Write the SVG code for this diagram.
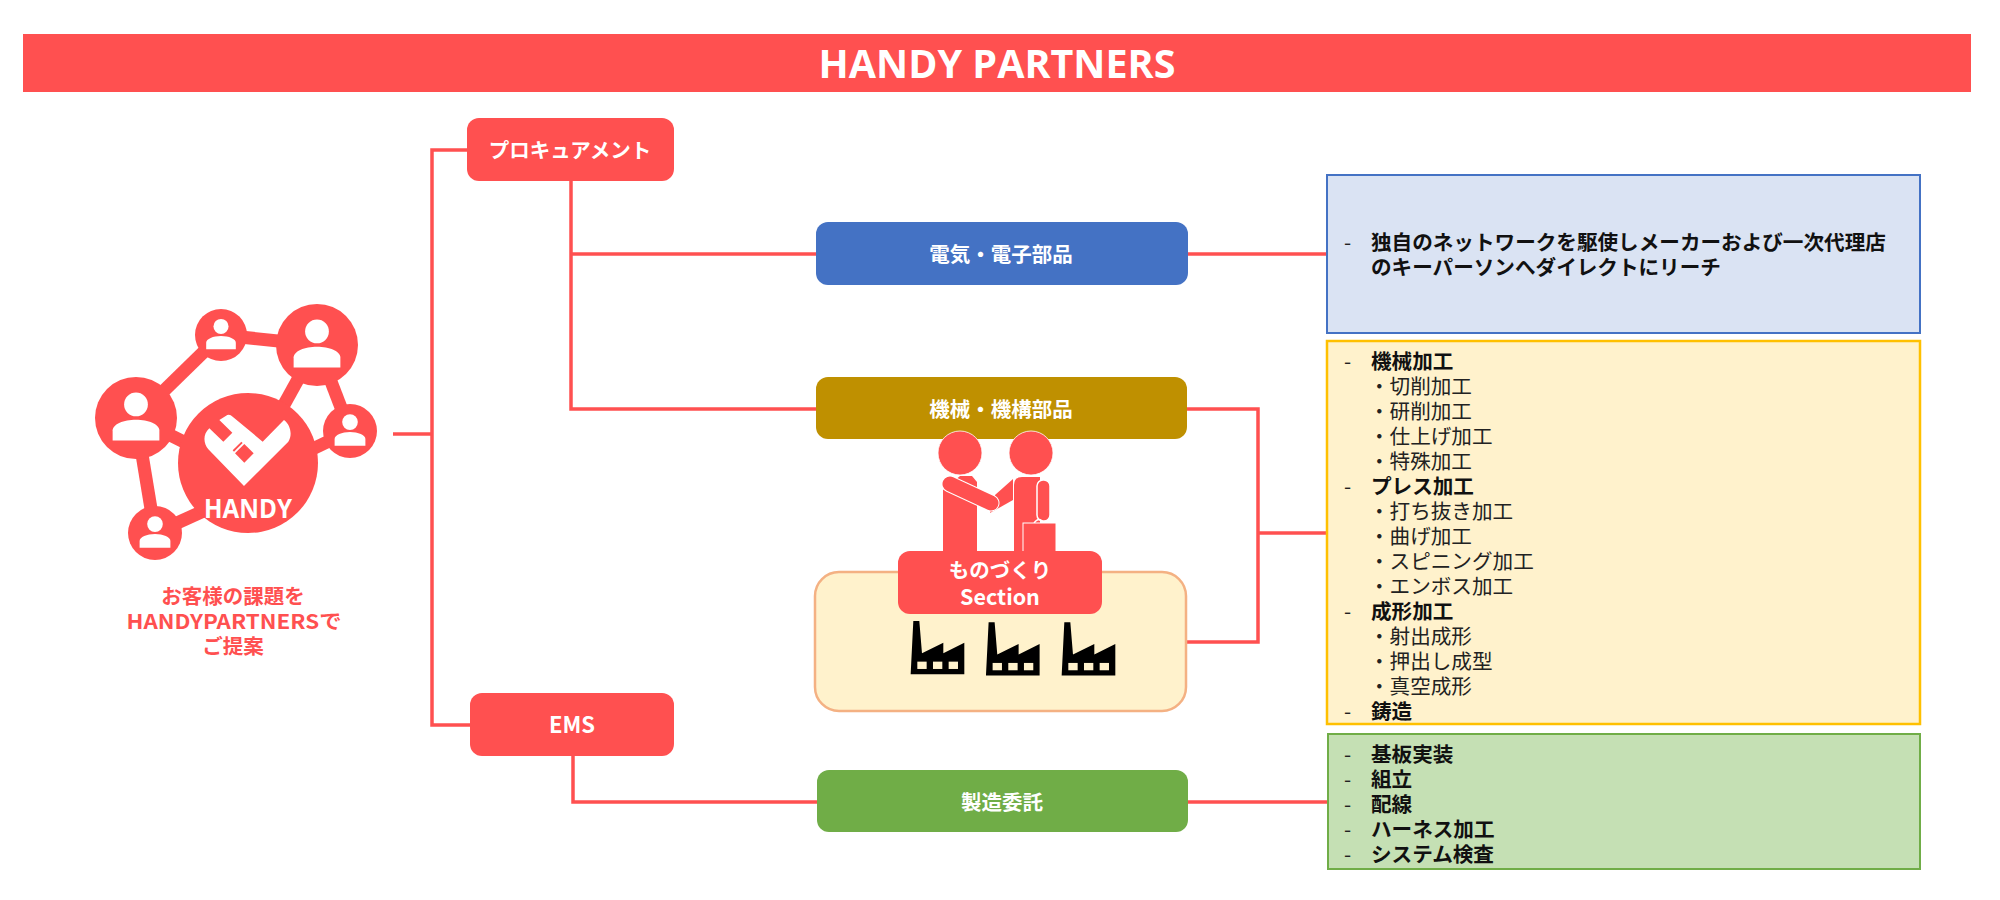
<svg xmlns="http://www.w3.org/2000/svg" width="2000" height="900" viewBox="0 0 2000 900">
<style>
text{font-family:"Noto Sans CJK JP","Noto Sans",sans-serif;}
.n{fill:#ff5050;}
.w{fill:#fff;font-weight:700;font-size:20.5px;text-anchor:middle;dominant-baseline:central;}
.c{fill:none;stroke:#ff5050;stroke-width:3.5;}
.b{font-size:20.6px;font-weight:700;fill:#111;}
.s{font-size:20.6px;fill:#222;}
.r{fill:#ff5050;font-weight:700;font-size:20.5px;text-anchor:middle;}
.cr{fill:#fff2cc;}
</style>
<defs>
<g id="person"><circle cx="0" cy="-33" r="29" fill="#fff"/><path d="M-57 55V30C-57 15-30 4 0 4S57 15 57 30V55Z" fill="#fff"/></g>
<g id="factory"><path d="M340 783H358L366 880 430 848V880L493 848V943H332Z" fill="#000"/><rect class="cr" x="352" y="905" width="28" height="22"/><rect class="cr" x="399" y="905" width="28" height="22"/><rect class="cr" x="446" y="905" width="28" height="22"/></g>
</defs>
<rect width="2000" height="900" fill="#fff"/>
<g id="title"><rect class="n" x="23" y="34" width="1948" height="58"/><text x="997" y="63" fill="#fff" font-size="39.5" font-weight="700" text-anchor="middle" dominant-baseline="central" style="font-family:'Open Sans',sans-serif">HANDY PARTNERS</text></g>
<g id="connectors">
<path class="c" d="M393 434H432"/>
<path class="c" d="M467 150H432V725H470"/>
<path class="c" d="M571 181V409H816"/>
<path class="c" d="M571 254H816"/>
<path class="c" d="M1188 254H1327"/>
<path class="c" d="M1187 409H1258V642H1186"/>
<path class="c" d="M1258 533H1327"/>
<path class="c" d="M573 756V802H817"/>
<path class="c" d="M1188 802H1327"/>
</g>
<g id="logo">
<g stroke="#ff5050" stroke-width="13"><line x1="136" y1="418" x2="221" y2="335"/><line x1="221" y1="335" x2="317" y2="345"/><line x1="136" y1="418" x2="155" y2="533"/><line x1="317" y1="345" x2="350" y2="431"/><line x1="317" y1="345" x2="270" y2="430"/><line x1="136" y1="418" x2="190" y2="445"/><line x1="350" y1="431" x2="300" y2="455"/><line x1="155" y1="533" x2="210" y2="508"/></g>
<circle class="n" cx="248" cy="463" r="70"/>
<circle class="n" cx="317" cy="345" r="41"/><use href="#person" transform="translate(317 345) scale(.41)"/>
<circle class="n" cx="221" cy="335" r="26"/><use href="#person" transform="translate(221 335) scale(.26)"/>
<circle class="n" cx="136" cy="418" r="41"/><use href="#person" transform="translate(136 418) scale(.41)"/>
<circle class="n" cx="350" cy="431" r="27"/><use href="#person" transform="translate(350 431) scale(.27)"/>
<circle class="n" cx="155" cy="533" r="27"/><use href="#person" transform="translate(155 533) scale(.27)"/>
<g transform="translate(190 400) scale(.3333)"><path fill="#fff" d="M162 258 55 148C40 130 38 103 58 85L100 125 127 98 88 60 112 45Q120 42 128 50L218 125 282 60C302 75 308 105 295 125Z"/><path class="n" d="M163 132 191 160 163 188 135 160Z"/><path class="n" d="M154 125 158 129 132 155 128 151Z"/></g>
<text x="248" y="508" fill="#fff" font-size="26.5" font-weight="700" text-anchor="middle" dominant-baseline="central" style="font-family:'Open Sans',sans-serif" textLength="88" lengthAdjust="spacingAndGlyphs">HANDY</text>
<text class="r" x="233" y="604">お客様の課題を</text>
<text class="r" x="234" y="629" textLength="215" lengthAdjust="spacingAndGlyphs">HANDYPARTNERSで</text>
<text class="r" x="233" y="654">ご提案</text>
</g>
<g id="node-procurement"><rect class="n" x="467" y="118" width="207" height="63" rx="12"/><text class="w" x="570" y="149">プロキュアメント</text></g>
<g id="node-ems"><rect class="n" x="470" y="693" width="204" height="63" rx="12"/><text class="w" x="572" y="723" style="font-size:22px">EMS</text></g>
<g id="node-denki"><rect x="816" y="222" width="372" height="63" rx="12" fill="#4472c4"/><text class="w" x="1001" y="253">電気・電子部品</text></g>
<g id="node-kikai"><rect x="816" y="377" width="371" height="62" rx="12" fill="#bf9000"/><text class="w" x="1001" y="408">機械・機構部品</text></g>
<g id="node-seizo"><rect x="817" y="770" width="371" height="62" rx="12" fill="#70ad47"/><text class="w" x="1002" y="801">製造委託</text></g>
<g id="people">
<circle class="n" cx="960" cy="453" r="22" stroke="#fff" stroke-width=".8"/><circle class="n" cx="1031" cy="453" r="22" stroke="#fff" stroke-width=".8"/>
<path class="n" d="M943 552V490L960 476H972L977 482V552Z"/>
<path class="n" d="M1013 479V500L990 513 995 495Z"/>
<line x1="950" y1="484" x2="991" y2="503" stroke="#fff" stroke-width="17" stroke-linecap="round"/>
<line x1="950" y1="484" x2="991" y2="503" stroke="#ff5050" stroke-width="15" stroke-linecap="round"/>
<path class="n" d="M1014 552V485Q1014 477 1022 477H1040V552Z"/>
<rect x="1037" y="480" width="13" height="41" rx="6" fill="#ff5050" stroke="#fff" stroke-width="1.5"/>
<path d="M1034 523Q1039 516 1044 523" fill="none" stroke="#fff" stroke-width="1.5"/>
<rect class="n" x="1023" y="523" width="33" height="29" stroke="#fff" stroke-width="1"/>
</g>
<g id="node-section">
<rect x="815" y="572" width="371" height="139" rx="24" fill="#fff2cc" stroke="#f4b183" stroke-width="2.5"/>
<rect class="n" x="898" y="551" width="204" height="63" rx="12"/>
<text class="w" x="1000" y="569">ものづくり</text><text class="w" x="1000" y="595" style="font-size:21.5px">Section</text>
<use href="#factory" transform="translate(800 360) scale(.3333)"/>
<use href="#factory" transform="translate(875.3 361.3) scale(.3333)"/>
<use href="#factory" transform="translate(951 361.3) scale(.3333)"/>
</g>
<g id="box-blue"><rect x="1327" y="175" width="593" height="158" fill="#dae3f3" stroke="#4472c4" stroke-width="2"/>
<text class="s" x="1344" y="250">-</text>
<text class="b" x="1371" y="250">独自のネットワークを駆使しメーカーおよび一次代理店</text>
<text class="b" x="1371" y="275">のキーパーソンへダイレクトにリーチ</text></g>
<g id="box-yellow"><rect x="1327" y="341" width="593" height="383" fill="#fff2cc" stroke="#ffc000" stroke-width="2.5"/>
<text class="s" x="1344" y="369">-</text><text class="b" x="1371" y="369">機械加工</text>
<text class="s" x="1369" y="394">・切削加工</text>
<text class="s" x="1369" y="419">・研削加工</text>
<text class="s" x="1369" y="444">・仕上げ加工</text>
<text class="s" x="1369" y="469">・特殊加工</text>
<text class="s" x="1344" y="494">-</text><text class="b" x="1371" y="494">プレス加工</text>
<text class="s" x="1369" y="519">・打ち抜き加工</text>
<text class="s" x="1369" y="544">・曲げ加工</text>
<text class="s" x="1369" y="569">・スピニング加工</text>
<text class="s" x="1369" y="594">・エンボス加工</text>
<text class="s" x="1344" y="619">-</text><text class="b" x="1371" y="619">成形加工</text>
<text class="s" x="1369" y="644">・射出成形</text>
<text class="s" x="1369" y="669">・押出し成型</text>
<text class="s" x="1369" y="694">・真空成形</text>
<text class="s" x="1344" y="719">-</text><text class="b" x="1371" y="719">鋳造</text></g>
<g id="box-green"><rect x="1328" y="734" width="592" height="135" fill="#c5e0b4" stroke="#70ad47" stroke-width="2"/>
<text class="s" x="1344" y="762">-</text><text class="b" x="1371" y="762">基板実装</text>
<text class="s" x="1344" y="787">-</text><text class="b" x="1371" y="787">組立</text>
<text class="s" x="1344" y="812">-</text><text class="b" x="1371" y="812">配線</text>
<text class="s" x="1344" y="837">-</text><text class="b" x="1371" y="837">ハーネス加工</text>
<text class="s" x="1344" y="862">-</text><text class="b" x="1371" y="862">システム検査</text></g>
</svg>
